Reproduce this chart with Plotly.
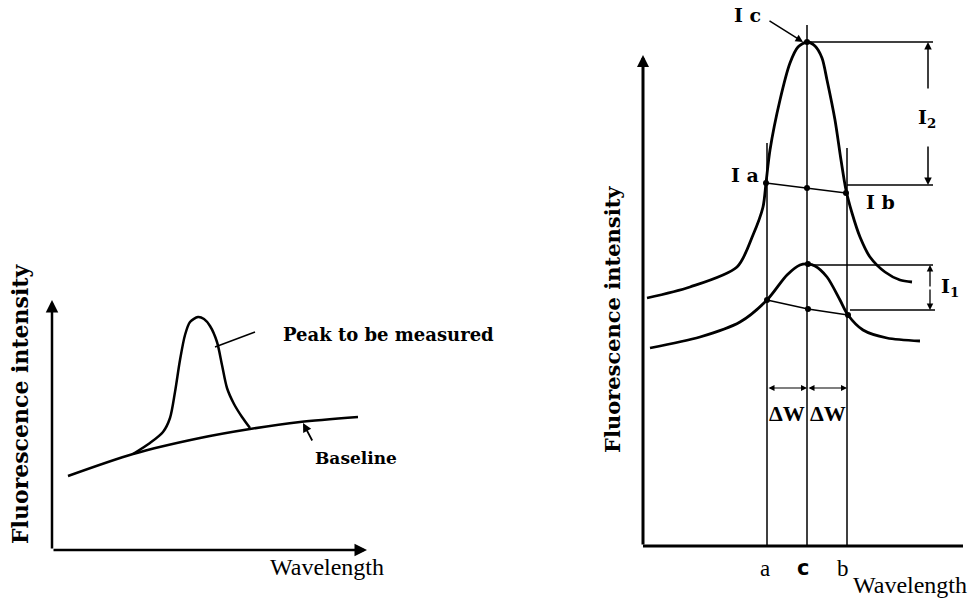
import plotly.graph_objects as go

# ---------------- Left panel data (panel units) ----------------
left_base_x = [16, 81, 148, 198, 248, 306]
left_base_y = [74, 96, 112, 121, 128, 133]
left_peak_x = [81, 98, 111, 118, 123, 128, 133, 138, 146, 152, 158, 165, 170, 175, 182, 190, 198]
left_peak_y = [96, 107, 118, 132, 158, 190, 215, 228, 233, 231, 224, 208, 185, 162, 146, 133, 122]

# ---------------- Right panel data (panel units) ----------------
upper_x = [4, 47, 94, 110, 120, 123, 127, 137, 147, 155, 164, 172, 179, 184, 192, 198, 203, 209, 217, 227, 242, 257, 269]
upper_y = [248, 259, 279, 311, 339, 363, 396, 446, 483, 499, 504, 500, 488, 466, 426, 386, 356, 333, 309, 289, 274, 266, 264]
lower_x = [7, 57, 97, 124, 144, 157, 165, 172, 184, 197, 205, 220, 244, 277]
lower_y = [198, 209, 224, 246, 271, 281, 282, 280, 269, 246, 231, 216, 208, 205]
upper_base_x = [123, 164, 203]
upper_base_y = [363, 358, 353]
lower_base_x = [124, 165, 205]
lower_base_y = [246, 237, 231]
peak_x = [164, 165]
peak_y = [504, 282]
wl_labels = ["a", "c", "b"]
wl_pos = [124, 164, 204]
wl_tops = [403, 521, 398]

fig = go.Figure()
BLK = "black"

def line(x, y, w, xa="x", ya="y", shape="linear"):
    fig.add_trace(go.Scatter(x=x, y=y, mode="lines", xaxis=xa, yaxis=ya,
                             line=dict(color=BLK, width=w, shape=shape, smoothing=0.8),
                             showlegend=False, hoverinfo="skip"))

# left panel
line(left_base_x, left_base_y, 2.5, shape="spline")
line(left_peak_x, left_peak_y, 2.5, shape="spline")
line([163, 203], [203, 218], 1.5)

# right panel curves
line(upper_x, upper_y, 2.8, "x2", "y2", "spline")
line(lower_x, lower_y, 2.8, "x2", "y2", "spline")
line(upper_base_x, upper_base_y, 1.5, "x2", "y2")
line(lower_base_x, lower_base_y, 1.5, "x2", "y2")
for xv, top in zip(wl_pos, wl_tops):
    line([xv, xv], [0, top], 1.5, "x2", "y2")
# horizontal reference lines
line([164, 290], [504, 504], 1.5, "x2", "y2")
line([204, 290], [361, 361], 1.5, "x2", "y2")
line([165, 290], [281, 281], 1.5, "x2", "y2")
line([207, 292], [236, 236], 1.5, "x2", "y2")

# dots
fig.add_trace(go.Scatter(x=upper_base_x + lower_base_x + peak_x,
                         y=upper_base_y + lower_base_y + peak_y,
                         mode="markers", xaxis="x2", yaxis="y2",
                         marker=dict(color=BLK, size=6), showlegend=False, hoverinfo="skip"))

ann = []
def arrow(x, y, ax, ay, w=2, xa="x", ya="y", head=2, side="end", size=1.0):
    ann.append(dict(x=x, y=y, ax=ax, ay=ay, xref=xa, yref=ya, axref=xa, ayref=ya,
                    showarrow=True, arrowhead=head, arrowwidth=w, arrowcolor=BLK,
                    arrowside=side, arrowsize=size, text=""))

def text(x, y, t, size, family, xa="x", ya="y", bold=False, angle=0):
    ann.append(dict(x=x, y=y, xref=xa, yref=ya, text=("<b>%s</b>" % t) if bold else t,
                    showarrow=False, textangle=angle, xanchor="center", yanchor="middle",
                    font=dict(size=size, family=family, color=BLK)))

SERIF = "Liberation Serif"
BSERIF = "DejaVu Serif"

# left axes
arrow(0, 250, 0, 0, 2.5)
arrow(315, 0, 0, 0, 2.5)
arrow(251, 127, 261, 108, 1.8)
text(336, 216, "Peak to be measured", 18, BSERIF, bold=True)
text(304, 92, "Baseline", 17, BSERIF, bold=True)
text(275, -17, "Wavelength", 24, SERIF)
text(20 / 972, 1 - 404 / 601, "Fluorescence intensity", 22, BSERIF, "paper", "paper", True, -90)

# right axes
arrow(0, 491, 0, 0, 3, "x2", "y2", head=2, size=0.8)
line([0, 320], [0, 0], 3, "x2", "y2")
arrow(160, 504, 125, 526, 1.5, "x2", "y2")
arrow(285, 504, 285, 456, 1.5, "x2", "y2", head=2)
arrow(285, 361, 285, 401, 1.5, "x2", "y2", head=2)
arrow(287, 281, 287, 258, 1.3, "x2", "y2", head=2)
arrow(287, 236, 287, 258, 1.3, "x2", "y2", head=2)
arrow(164, 158, 124, 158, 1.2, "x2", "y2", head=2, side="end+start")
arrow(204, 158, 164, 158, 1.2, "x2", "y2", head=2, side="end+start")

text(104, 531, "I c", 19, BSERIF, "x2", "y2", True)
text(102, 371, "I a", 19, BSERIF, "x2", "y2", True)
text(237, 344, "I b", 19, BSERIF, "x2", "y2", True)
text(284, 428, "I<sub>2</sub>", 19, BSERIF, "x2", "y2", True)
text(307, 259, "I<sub>1</sub>", 19, BSERIF, "x2", "y2", True)
text(144, 133, "ΔW", 22, SERIF, "x2", "y2", True)
text(185, 133, "ΔW", 22, SERIF, "x2", "y2", True)
text(122, -22, wl_labels[0], 23, SERIF, "x2", "y2")
text(160, -22, wl_labels[1], 21, "DejaVu Sans", "x2", "y2", True)
text(200, -22, wl_labels[2], 23, SERIF, "x2", "y2")
text(267, -39, "Wavelength", 24, SERIF, "x2", "y2")
text(612 / 972, 1 - 320 / 601, "Fluorescence intensity", 21, BSERIF, "paper", "paper", True, -90)

ax_common = dict(visible=False, showgrid=False, zeroline=False, fixedrange=True)
fig.update_layout(
    width=972, height=601, margin=dict(l=0, r=0, t=0, b=0),
    paper_bgcolor="white", plot_bgcolor="white",
    xaxis=dict(domain=[0, 0.55], range=[-52, 482.6], **ax_common),
    yaxis=dict(domain=[0, 1], range=[-51, 550], **ax_common),
    xaxis2=dict(domain=[0.56, 1], range=[-98.68, 329], anchor="y2", **ax_common),
    yaxis2=dict(domain=[0, 1], range=[-55, 546], anchor="x2", **ax_common),
    annotations=ann,
)
fig.write_html("out.html", config={"displayModeBar": False},
               post_script="document.body.style.margin='0';document.body.style.overflow='hidden';")
